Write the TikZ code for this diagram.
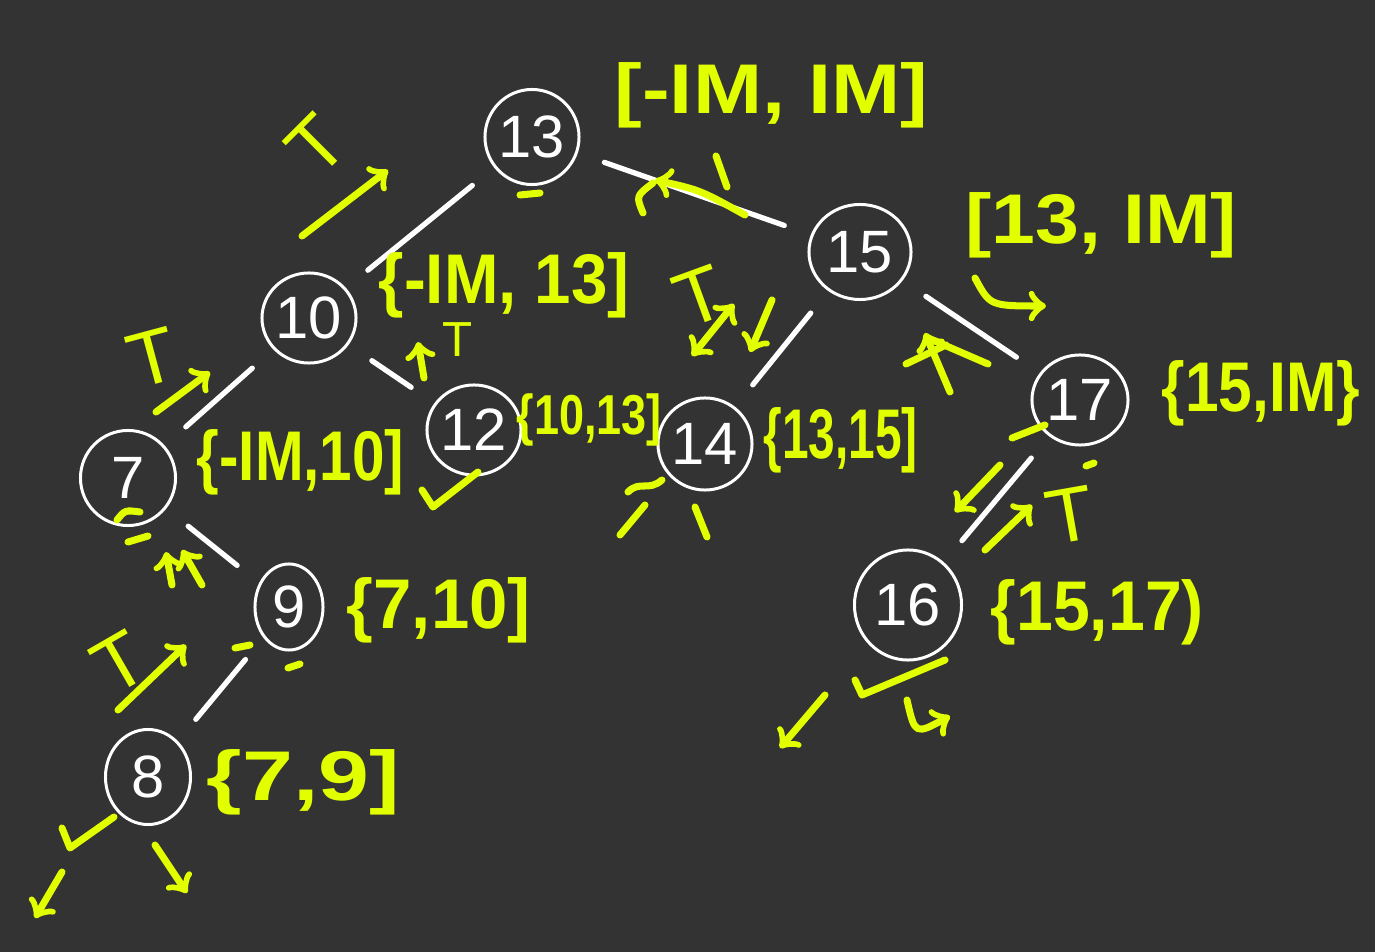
\documentclass[tikz,border=0pt]{standalone}
\usepackage{fontspec}
\setmainfont{Liberation Sans}
\usepackage{tikz}
\usetikzlibrary{shapes.geometric}

\definecolor{board}{RGB}{51,51,51}
\definecolor{hilite}{RGB}{226,255,0}

\begin{document}
\begin{tikzpicture}[x=0.01cm,y=-0.01cm,>=to,font=\fontsize{17}{19}\selectfont,
    key/.style={ellipse,draw=white,line width=0.85pt,text=white,inner sep=0pt},
    branch/.style={white,line width=1.5pt,line cap=round,shorten <=8pt,shorten >=8pt},
    bound/.style={text=hilite,anchor=west,inner sep=0pt,font=\bfseries\fontsize{20}{22}\selectfont},
    pen/.style={hilite,line width=2pt,line cap=round,line join=round},
    tag/.style={text=hilite,font=\fontsize{22}{24}\selectfont}]

% ---------- board ----------
\useasboundingbox (0,0) rectangle (1375,952);
\fill[board] (0,0) rectangle (1375,952);

% ---------- keys ----------
\node[key,minimum width=0.88cm,minimum height=0.95cm] (k13) at (532,137) {13};
\node[key,minimum width=1.02cm,minimum height=0.95cm] (k15) at (860,252) {15};
\node[key,minimum width=0.88cm,minimum height=0.90cm] (k10) at (309,318) {10};
\node[key,minimum width=0.78cm,minimum height=0.90cm] (k12) at (474,430) {12};
\node[key,minimum width=0.80cm,minimum height=0.92cm] (k14) at (705,444) {14};
\node[key,minimum width=0.96cm,minimum height=0.90cm] (k17) at (1080,400) {17};
\node[key,minimum width=0.95cm,minimum height=0.95cm] (k7) at (128,478) {7};
\node[key,minimum width=0.68cm,minimum height=0.86cm] (k9) at (289,607) {9};
\node[key,minimum width=1.07cm,minimum height=1.10cm] (k16) at (908,605) {16};
\node[key,minimum width=0.85cm,minimum height=0.95cm] (k8) at (148,777) {8};

\draw[branch] (k13) -- (k10);
\draw[branch] (k13) -- (k15);
\draw[branch] (k10) -- (k7);
\draw[branch] (k10) -- (k12);
\draw[branch] (k15) -- (k14);
\draw[branch] (k15) -- (k17);
\draw[branch] (k7) -- (k9);
\draw[branch] (k9) -- (k8);
\draw[branch] (k17) -- (k16);

% ---------- root ----------
\node[bound] (b13) at (614,95) {\scalebox{1.18}[1]{[-IM, IM]}};
\node[tag,rotate=45] (t13) at (316,145) {T};
\draw[pen,->] (302,236) -- (388,170);
\draw[pen] (520,195) -- (540,193);
\draw[pen,->] (745,215) .. controls (700,190) .. (655,180);
\draw[pen] (643,213) .. controls (636,196) .. (653,183);
\draw[pen] (716,156) -- (727,187);

% ---------- left subtree ----------
\node[bound] (b10) at (378,285) {\scalebox{0.93}[1]{\{-IM, 13]}};
\node[tag,rotate=15] (t10) at (152,358) {T};
\draw[pen,->] (156,412) -- (210,372);
\draw[pen,->] (424,378) -- (418,342);
\node[tag,font=\fontsize{14}{16}\selectfont] (t12) at (458,340) {T};

\node[bound] (b7) at (196,462) {\scalebox{0.83}[1]{\{-IM,10]}};
\draw[pen] (117,520) .. controls (125,510) .. (140,512);
\draw[pen] (128,542) -- (148,536);
\draw[pen,->] (172,585) -- (166,552);
\draw[pen,->] (202,585) -- (182,550);

\node[bound,font=\bfseries\fontsize{16}{18}\selectfont] (b12) at (516,420) {\scalebox{0.8}[1]{\{10,13]}};
\draw[pen] (422,490) -- (433,507) -- (478,472);

\node[bound] (b9) at (346,610) {\scalebox{0.98}[1]{\{7,10]}};
\node[tag,rotate=30] (t9) at (120,663) {T};
\draw[pen,->] (118,710) -- (186,645);
\draw[pen] (235,648) -- (250,645);
\draw[pen] (288,668) -- (300,664);

\node[bound] (b8) at (206,782) {\scalebox{1.3}[1]{\{7,9]}};
\draw[pen] (62,828) -- (70,848) -- (114,817);
\draw[pen,->] (62,872) -- (35,918);
\draw[pen,->] (155,845) -- (187,893);

% ---------- right subtree ----------
\node[bound] (b15) at (965,225) {\scalebox{1.12}[1]{[13, IM]}};
\draw[pen,->] (975,278) .. controls (990,306) .. (1046,306);
\node[tag,rotate=20] (t14) at (700,296) {T};
\draw[pen,<->] (692,356) -- (734,304);
\draw[pen,->] (772,300) -- (750,352);

\node[bound] (b14) at (763,440) {\scalebox{0.68}[1]{\{13,15]}};
\draw[pen] (628,492) .. controls (640,480) and (648,492) .. (662,480);
\draw[pen] (620,535) -- (645,505);
\draw[pen] (695,507) -- (707,537);

\node[bound] (b17) at (1161,393) {\scalebox{0.86}[1]{\{15,IM\}}};
\draw[pen,->] (950,392) -- (925,333);
\draw[pen] (906,364) -- (946,345);
\draw[pen] (928,338) -- (988,364);
\draw[pen] (1012,438) -- (1045,425);
\draw[pen] (1086,466) -- (1094,463);

\node[bound] (b16) at (990,612) {\scalebox{0.94}[1]{\{15,17)}};
\draw[pen,->] (1000,465) -- (955,512);
\draw[pen,->] (985,550) -- (1032,505);
\node[tag,rotate=10] (t16) at (1070,515) {T};
\draw[pen] (855,680) -- (862,695) -- (945,660);
\draw[pen,->] (825,695) -- (780,748);
\draw[pen,->] (907,700) .. controls (915,735) .. (950,716);

\end{tikzpicture}
\end{document}
